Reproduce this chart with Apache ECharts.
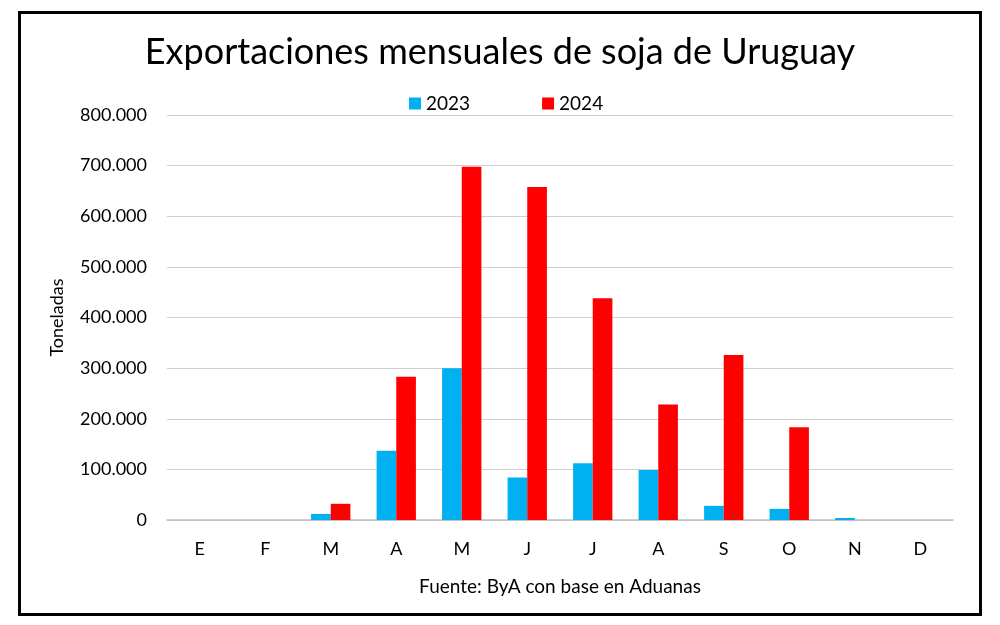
<!DOCTYPE html>
<html><head><meta charset="utf-8">
<script src="https://cdn.jsdelivr.net/npm/echarts@6/dist/echarts.min.js"></script>
<style>html,body{margin:0;padding:0;background:#fff}#c{width:1000px;height:625px}</style>
</head><body><div id="c"></div>
<script>
const months = ['E','F','M','A','M','J','J','A','S','O','N','D'];
const s2023 = [0, 0, 12000, 137000, 300000, 84000, 112000, 99000, 28000, 22000, 4000, 0];
const s2024 = [0, 0, 32000, 283000, 698000, 658000, 438000, 228000, 326000, 183000, 0, 0];
const yTicks = [0, 100000, 200000, 300000, 400000, 500000, 600000, 700000, 800000];
const FONT = 'Lato';
function fmt(v){ if(v===0) return '0'; return String(v).replace(/\B(?=(\d{3})+(?!\d))/g,'.'); }
const chart = echarts.init(document.getElementById('c'));
chart.setOption({
  backgroundColor:'#fff',
  animation:false,
  graphic:[{type:'rect',left:17,top:10,shape:{width:961,height:602},style:{fill:'none',stroke:'#000',lineWidth:3}}],
  title:{text:'Exportaciones mensuales de soja de Uruguay',left:'center',top:29,
    textStyle:{fontFamily:FONT,fontWeight:'normal',fontSize:36,color:'#000'}},
  legend:{top:89,left:404,itemGap:72,itemWidth:12,itemHeight:12,icon:'rect',
    textStyle:{fontFamily:FONT,fontSize:19,color:'#000'},data:['2023','2024']},
  grid:{left:167,right:47,top:115,bottom:105},
  xAxis:{type:'category',data:months,
    name:'Fuente: ByA con base en Aduanas',nameLocation:'middle',nameGap:57,
    nameTextStyle:{fontFamily:FONT,fontSize:19,color:'#000'},
    axisLine:{lineStyle:{color:'#bfbfbf',width:1.5}},axisTick:{show:false},
    axisLabel:{fontFamily:FONT,fontSize:18,color:'#000',margin:20}},
  yAxis:{type:'value',min:0,max:800000,interval:100000,
    name:'Toneladas',nameLocation:'middle',nameGap:101,nameRotate:90,
    nameTextStyle:{fontFamily:FONT,fontSize:18,color:'#000'},
    axisLine:{show:false},axisTick:{show:false},
    splitLine:{lineStyle:{color:'#d0d0d0',width:1}},
    axisLabel:{fontFamily:FONT,fontSize:18,color:'#000',margin:20,
      formatter:v=>yTicks.includes(v)?fmt(v):''}},
  series:[
    {name:'2023',type:'bar',data:s2023,barWidth:'30%',barGap:'0%',itemStyle:{color:'#00b0f0'}},
    {name:'2024',type:'bar',data:s2024,barWidth:'30%',barGap:'0%',itemStyle:{color:'#ff0000'}}
  ]
});
</script></body></html>
